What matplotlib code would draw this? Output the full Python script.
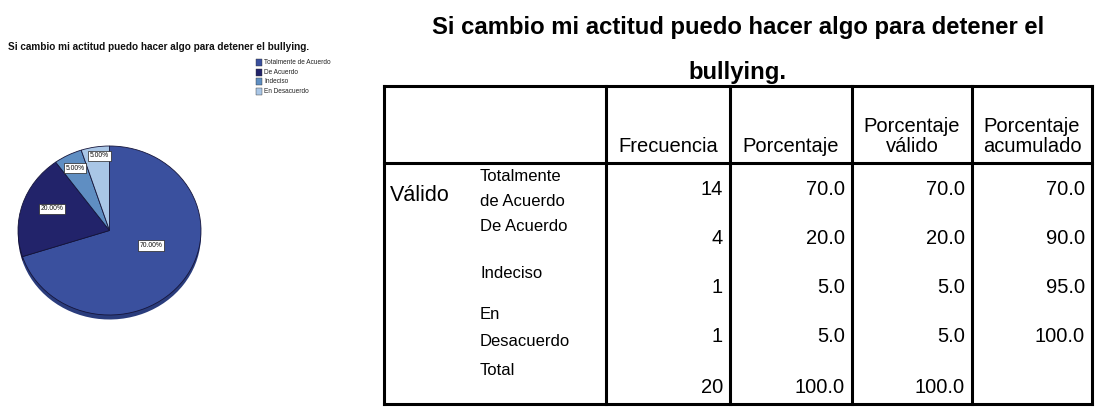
import numpy as np
import matplotlib
matplotlib.use("Agg")
import matplotlib.pyplot as plt
from matplotlib.patches import Rectangle

# ---------------- data ----------------
title_text = "Si cambio mi actitud puedo hacer algo para detener el bullying."
table_title_l1 = "Si cambio mi actitud puedo hacer algo para detener el"
table_title_l2 = "bullying."
categories = ["Totalmente de Acuerdo", "De Acuerdo", "Indeciso", "En Desacuerdo"]
row_labels = [["Totalmente", "de Acuerdo"], ["De Acuerdo"], ["Indeciso"], ["En", "Desacuerdo"], ["Total"]]
frecuencia = [14, 4, 1, 1, 20]
porcentaje = [70.0, 20.0, 5.0, 5.0, 100.0]
porc_valido = [70.0, 20.0, 5.0, 5.0, 100.0]
porc_acumulado = [70.0, 90.0, 95.0, 100.0, None]
headers = [["Frecuencia"], ["Porcentaje"], ["Porcentaje", "válido"], ["Porcentaje", "acumulado"]]
pie_values = [70.0, 20.0, 5.0, 5.0]
pie_labels = ["70.00%", "20.00%", "5.00%", "5.00%"]

# ---------------- style ----------------
W, H = 1095, 407
DPI = 100
FONT = "Liberation Sans"
pie_colors = ["#3A509E", "#22236A", "#5F8EC2", "#A9C6E6"]
rim_colors = ["#2A3C7C", "#161747", "#4A74A2", "#87A5C6"]

fig = plt.figure(figsize=(W / DPI, H / DPI), dpi=DPI)
fig.patch.set_facecolor("white")

bg = fig.add_axes([0, 0, 1, 1])
bg.set_xlim(0, W)
bg.set_ylim(H, 0)
bg.axis("off")

# ---------------- left panel: pie ----------------
bg.text(8, 50, title_text, fontsize=7.2, fontweight="bold", family=FONT,
        ha="left", va="baseline", color="#111111")

leg_y0, leg_dy = 62.5, 9.7
for i, (cat, col) in enumerate(zip(categories, pie_colors)):
    y = leg_y0 + i * leg_dy
    bg.add_patch(Rectangle((256, y - 3.5), 5.5, 7, facecolor=col,
                           edgecolor="#333333", linewidth=0.3))
    bg.text(264, y, cat, fontsize=4.7, family=FONT, ha="left", va="center",
            color="#222222")

px0, px1, py0, py1 = 18, 201, 146, 315
rim = 5
pax = fig.add_axes([px0 / W, (H - py1 - rim) / H, (px1 - px0) / W, (py1 - py0 + rim) / H])
ext = rim / (py1 - py0) * 2

# 3D rim (shifted copy underneath)
pax.pie(pie_values, colors=rim_colors, startangle=90, counterclock=False,
        radius=1.0, center=(0, -ext * 0.9), frame=True,
        wedgeprops=dict(edgecolor="none"))
wedges, _ = pax.pie(pie_values, colors=pie_colors, startangle=90, counterclock=False,
                    radius=1.0, center=(0, 0), frame=True,
                    wedgeprops=dict(edgecolor="#15153A", linewidth=0.6))
pax.set_aspect("auto")
pax.set_xlim(-1.0, 1.0)
pax.set_ylim(-1.0 - ext, 1.0)
pax.axis("off")

label_r = [0.49, 0.68, 0.83, 0.89]
label_dtheta = [15, -4, 0, -2]
for w, lab, r, dt in zip(wedges, pie_labels, label_r, label_dtheta):
    mid = np.deg2rad((w.theta1 + w.theta2) / 2 + dt)
    pax.text(r * np.cos(mid), r * np.sin(mid), lab, fontsize=4.9, family=FONT,
             ha="center", va="center", color="#111111",
             bbox=dict(boxstyle="square,pad=0.25", facecolor="white",
                       edgecolor="#222222", linewidth=0.5))

# ---------------- right panel: table ----------------
tx_center = 738
bg.text(tx_center, 34, table_title_l1, fontsize=17.2, fontweight="bold", family=FONT,
        ha="center", va="baseline", color="black")
bg.text(tx_center, 79, table_title_l2, fontsize=17.2, fontweight="bold", family=FONT,
        ha="center", va="baseline", color="black")

left, right, top, bottom = 384, 1092, 86, 404
hdr_bottom = 163
col_x = [left, 606, 730, 852, 972, right]
lw = 2.2
bg.plot([left, right], [top, top], color="black", lw=lw, solid_capstyle="projecting")
bg.plot([left, right], [bottom, bottom], color="black", lw=lw, solid_capstyle="projecting")
bg.plot([left, right], [hdr_bottom, hdr_bottom], color="black", lw=lw, solid_capstyle="projecting")
for x in col_x:
    bg.plot([x, x], [top, bottom], color="black", lw=lw, solid_capstyle="projecting")

hfs = 14.5
for j, hdr in enumerate(headers):
    cx = (col_x[j + 1] + col_x[j + 2]) / 2
    base = 152
    for k, line in enumerate(reversed(hdr)):
        bg.text(cx, base - k * 20, line, fontsize=hfs, family=FONT, ha="center",
                va="baseline", color="black")

bg.text(390, 201, "Válido", fontsize=15.5, family=FONT, ha="left", va="baseline",
        color="black")

label_baselines = [[181, 206], [231], [278], [319, 346], [375]]
for labs, bls in zip(row_labels, label_baselines):
    for lab, b in zip(labs, bls):
        bg.text(480, b, lab, fontsize=12, family=FONT, ha="left", va="baseline",
                color="black")

num_centers = [188, 237, 286, 335, 386]
cols = [frecuencia, porcentaje, porc_valido, porc_acumulado]
for j, vals in enumerate(cols):
    xr = col_x[j + 2] - 7
    for yc, v in zip(num_centers, vals):
        if v is None:
            continue
        s = f"{v}" if isinstance(v, int) else f"{v:.1f}"
        bg.text(xr, yc + 7, s, fontsize=hfs, family=FONT, ha="right",
                va="baseline", color="black")

fig.savefig("out.png", dpi=DPI, facecolor="white")
